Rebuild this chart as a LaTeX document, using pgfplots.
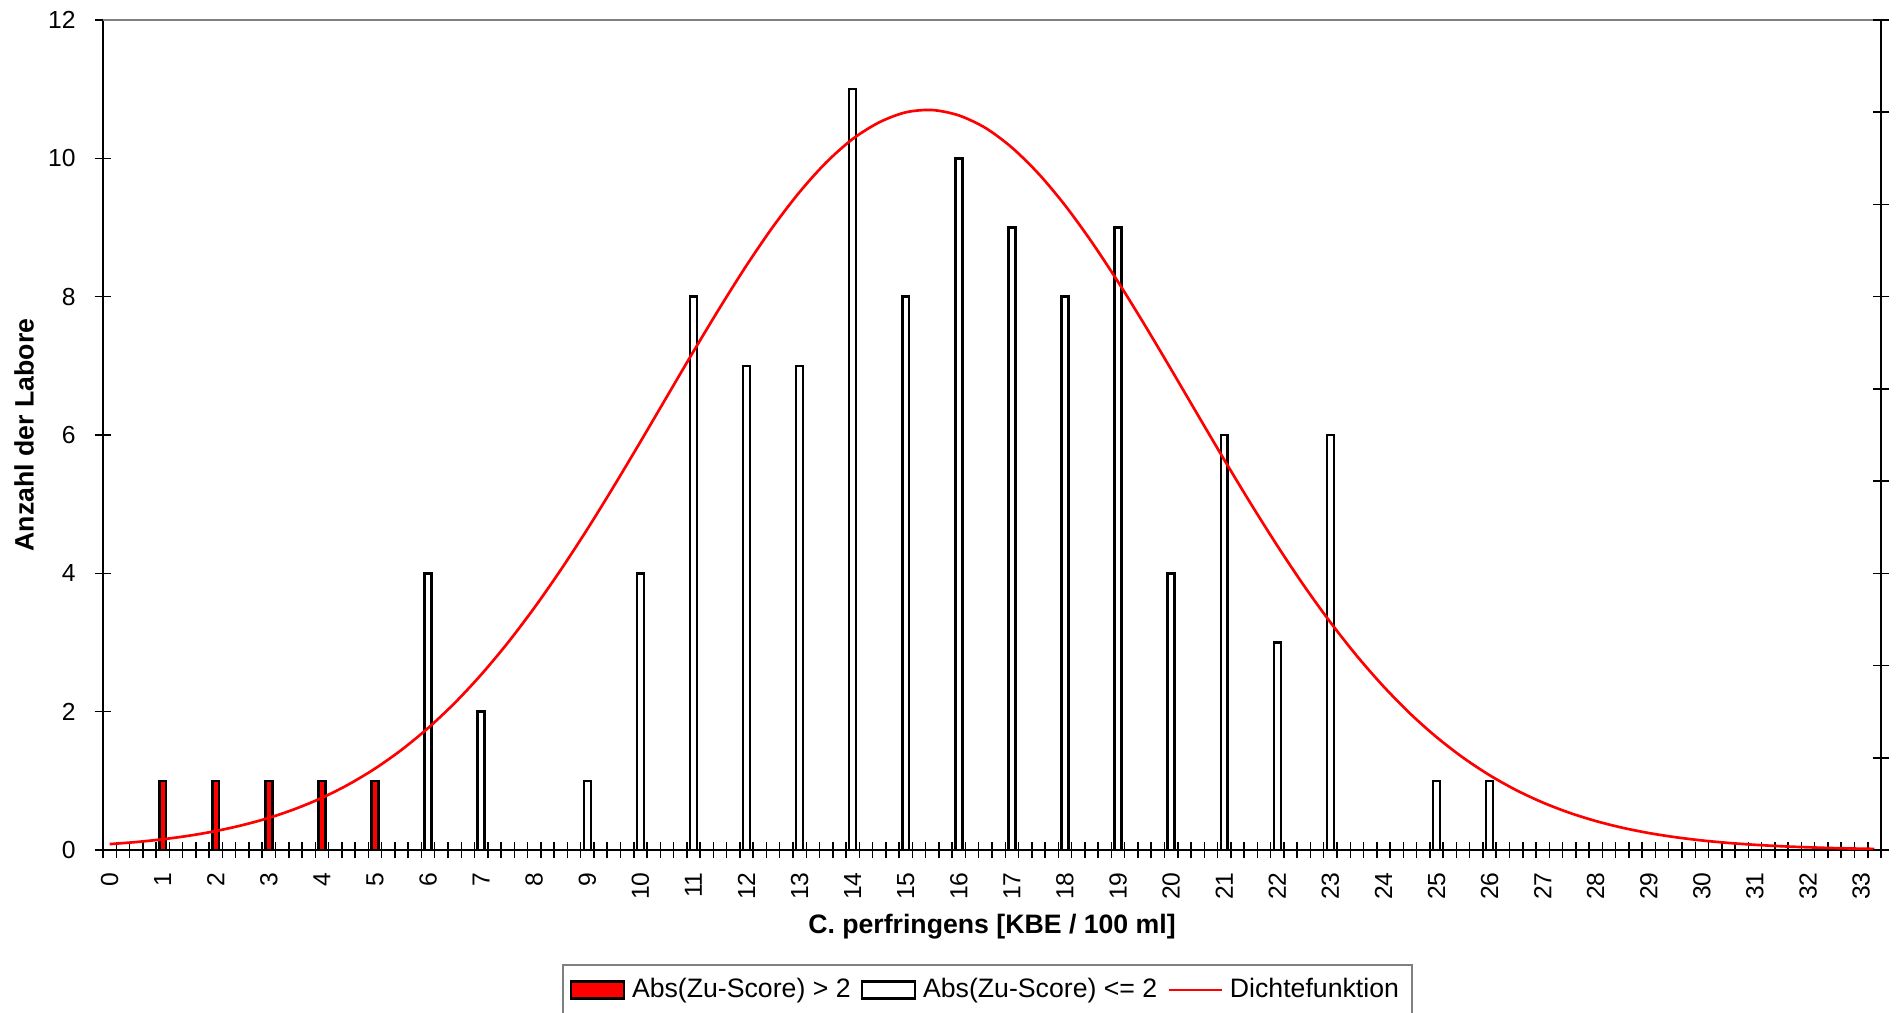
\documentclass[border=0pt]{standalone}
\usepackage{fontspec}
\setmainfont{Liberation Sans}
\usepackage{pgfplots}
\pgfplotsset{compat=1.18}

\begin{document}
\begin{tikzpicture}
% picture frame in pt (0.3pt per reference pixel), axis box from (0,0)
\path[use as bounding box] (-30.9pt,-48.9pt) rectangle (537.9pt,255pt);
\begin{axis}[
  at={(0,0)}, anchor=south west,
  scale only axis, width=533.4pt, height=249pt,
  xmin=-0.125, xmax=33.375, ymin=0, ymax=12,
  axis x line*=bottom, axis y line*=left,
  axis line style={line width=0.6pt, -},
  xtick={0,...,33}, major x tick style={draw=none},
  minor xtick={-0.125,0.125,...,33.375},
  ytick={0,2,...,12},
  tick align=center, major tick length=5pt, minor tick length=5pt,
  every tick/.style={black, line width=0.45pt},
  /pgf/number format/assume math mode=true,
  tick label style={font=\fontsize{7.4}{8.5}\selectfont},
  xticklabel style={rotate=90, anchor=east, inner xsep=4pt, inner ysep=0pt},
  yticklabel style={anchor=east, inner xsep=5.5pt},
  xlabel={\textbf{C. perfringens [KBE / 100 ml]}},
  ylabel={\textbf{Anzahl der Labore}},
  label style={font=\fontsize{8}{9.6}\selectfont},
  xlabel style={at={(axis description cs:0.5,-0.0928)}, anchor=center},
  ylabel style={at={(axis description cs:-0.0444,0.5)}, anchor=center},
  legend style={at={(axis description cs:0.4975,-0.1687)}, anchor=center,
    draw=gray, line width=0.6pt, legend columns=3,
    font=\fontsize{8}{9.6}\selectfont, inner sep=2pt,
    /tikz/every even column/.append style={column sep=1pt}},
  legend cell align=left,
]
\draw[gray, line width=0.6pt] (rel axis cs:0,1) -- (rel axis cs:1,1);

\addplot[ybar, bar width=0.13, fill=red, draw=black, line width=0.75pt,
  legend image code/.code={\draw[fill=red, draw=black, line width=0.75pt] (0pt,-2.5pt) rectangle (16pt,2.5pt);}]
  coordinates {(1,1)(2,1)(3,1)(4,1)(5,1)};
\addlegendentry{Abs(Zu-Score) > 2}

\addplot[ybar, bar width=0.13, fill=white, draw=black, line width=0.75pt,
  legend image code/.code={\draw[fill=white, draw=black, line width=0.75pt] (0pt,-2.5pt) rectangle (16pt,2.5pt);}]
  coordinates {(6,4)(7,2)(9,1)(10,4)(11,8)(12,7)(13,7)(14,11)(15,8)(16,10)
    (17,9)(18,8)(19,9)(20,4)(21,6)(22,3)(23,6)(25,1)(26,1)};
\addlegendentry{Abs(Zu-Score) <= 2}

\addplot[red, line width=0.8pt, mark=none, smooth,
  legend image code/.code={\draw[red, line width=0.8pt] (0pt,0pt) -- (16pt,0pt);}]
  coordinates {
  (0,0.085)(0.5,0.115)(1,0.155)(1.5,0.207)(2,0.274)(2.5,0.359)(3,0.464)
  (3.5,0.595)(4,0.754)(4.5,0.947)(5,1.177)(5.5,1.448)(6,1.763)(6.5,2.124)
  (7,2.535)(7.5,2.994)(8,3.500)(8.5,4.050)(9,4.638)(9.5,5.259)(10,5.901)
  (10.5,6.555)(11,7.208)(11.5,7.844)(12,8.452)(12.5,9.013)(13,9.513)
  (13.5,9.940)(14,10.28)(14.5,10.52)(15,10.665)(15.5,10.698)(16,10.62)
  (16.5,10.44)(17,10.155)(17.5,9.779)(18,9.321)(18.5,8.794)(19,8.213)
  (19.5,7.593)(20,6.948)(20.5,6.293)(21,5.642)(21.5,5.008)(22,4.399)
  (22.5,3.824)(23,3.292)(23.5,2.805)(24,2.366)(24.5,1.974)(25,1.632)
  (25.5,1.335)(26,1.081)(26.5,0.866)(27,0.687)(27.5,0.539)(28,0.419)
  (28.5,0.322)(29,0.245)(29.5,0.185)(30,0.138)(30.5,0.102)(31,0.075)
  (31.5,0.054)(32,0.039)(32.5,0.027)(33,0.019)(33.25,0.016)};
\addlegendentry{Dichtefunktion}
\end{axis}

% right-hand axis: ticks only, nine intervals
\begin{axis}[
  at={(0,0)}, anchor=south west,
  scale only axis, width=533.4pt, height=249pt,
  xmin=-0.125, xmax=33.375, ymin=0, ymax=9,
  hide x axis, axis y line*=right,
  axis line style={line width=0.6pt, -},
  ytick={0,...,9}, yticklabels={},
  tick align=center, major tick length=5pt,
  every tick/.style={black, line width=0.45pt},
]
\end{axis}
\end{tikzpicture}
\end{document}
